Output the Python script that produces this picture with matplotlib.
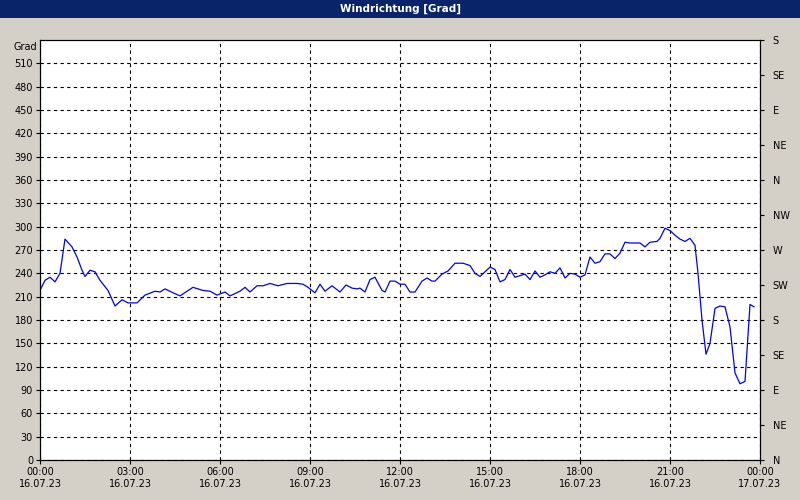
import matplotlib
matplotlib.use("Agg")
import matplotlib.pyplot as plt
import numpy as np

# pixel-read samples: x position in px (40 = 00:00, 30 px per hour), value in degrees
px = [40, 45, 50, 55, 60, 65, 72, 77, 82, 85, 90, 95, 100, 108, 115, 122, 128, 137, 145, 155,
      160, 165, 173, 180, 187, 193, 203, 210, 217, 225, 230, 240, 245, 250, 257, 263, 270, 278, 287, 297,
      303, 308, 315, 320, 325, 332, 340, 346, 352, 357, 360, 365, 370, 375, 382, 385, 390, 395, 400,
      405, 410, 415, 422, 427, 432, 435, 442, 448, 455, 463, 470, 475, 480, 490, 495, 500, 505, 510,
      515, 525, 530, 535, 540, 545, 550, 555, 560, 565, 570, 575, 580, 585, 590, 595, 600, 605, 610,
      615, 620, 625, 630, 640, 645, 650, 657, 660, 665, 670, 675, 680, 685, 690, 695, 698, 702, 706,
      710, 715, 720, 725, 730, 735, 740, 745, 750, 754]
deg = [218, 231, 235, 229, 240, 284, 274, 261, 244, 236, 244, 242, 231, 218, 198, 206, 202, 202, 212, 217,
       216, 220, 215, 211, 217, 222, 218, 217, 212, 216, 211, 217, 222, 216, 224, 224, 227, 224, 227, 227,
       226, 222, 215, 226, 217, 224, 216, 225, 221, 220, 221, 216, 232, 235, 218, 216, 230, 230, 226,
       226, 216, 216, 230, 234, 230, 230, 239, 243, 253, 253, 250, 240, 236, 248, 245, 229, 232, 245,
       235, 239, 232, 243, 235, 238, 242, 240, 247, 234, 240, 239, 235, 238, 261, 253, 255, 265, 265,
       259, 266, 280, 279, 279, 274, 280, 281, 285, 298, 295, 289, 284, 281, 285, 276, 240, 180, 136,
       150, 195, 198, 197, 171, 112, 98, 101, 200, 197]
hours = (np.array(px) - 40) / 30.0

yticks = list(range(0, 511, 30))
right_labels = ["N", "NE", "E", "SE", "S", "SW", "W", "NW", "N", "NE", "E", "SE", "S"]
xtick_labels = [f"{h:02d}:00\n16.07.23" for h in range(0, 24, 3)] + ["00:00\n17.07.23"]

bg = "#d4d0c8"
fig = plt.figure(figsize=(8, 5), dpi=100, facecolor=bg)
ax = fig.add_axes([0.05, 0.08, 0.9, 0.84])
ax.plot(hours, deg, color="#0000ff", lw=0.9)
ax.set_xlim(0, 24)
ax.set_ylim(0, 540)
ax.set_yticks(yticks)
ax.set_yticklabels([str(v) for v in yticks], fontsize=7)
ax.set_xticks(range(0, 25, 3))
ax.set_xticklabels(xtick_labels, fontsize=7)
ax.tick_params(length=3, direction="out", pad=2)
ax.grid(True, color="black", linestyle=(0, (3, 3)), lw=0.8)
for s in ax.spines.values():
    s.set_color("black")

ax2 = ax.twinx()
ax2.set_ylim(0, 540)
ax2.set_yticks(range(0, 541, 45))
ax2.set_yticklabels(right_labels, fontsize=7)
ax2.tick_params(length=3, pad=6)

ax.text(-0.004, 0.995, "Grad", transform=ax.transAxes, fontsize=7, ha="right", va="top")

# title bar
fig.patches.append(plt.Rectangle((0, 1 - 18 / 500), 1, 18 / 500, transform=fig.transFigure,
                                 facecolor="#0a246a", edgecolor="none"))
fig.text(0.5, 1 - 9 / 500, "Windrichtung [Grad]", color="white", fontsize=7.5,
         fontweight="bold", ha="center", va="center")

fig.savefig("out.png", dpi=100, facecolor=bg)
